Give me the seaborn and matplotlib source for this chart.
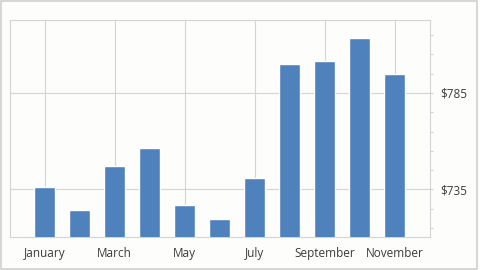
import matplotlib
matplotlib.use("Agg")
import matplotlib.pyplot as plt
import matplotlib.patches as mpatches
from matplotlib.ticker import MultipleLocator, FixedLocator, FuncFormatter
import seaborn as sns
import pandas as pd

months = ["January", "February", "March", "April", "May", "June", "July",
          "August", "September", "October", "November"]
values = [736.5, 724.2, 746.9, 756.6, 726.8, 719.5, 741.2, 799.9, 801.5, 813.4, 794.8]
tick_labels = ["January", "March", "May", "July", "September", "November"]
y_major = [735, 785]
y_minor = [715, 725, 745, 755, 765, 775, 795, 805, 815]

df = pd.DataFrame({"month": months, "value": values})

sns.set_theme(style="white")
plt.rcParams["font.family"] = ["Open Sans", "DejaVu Sans"]

bg = "#FDFEFC"
grid_c = "#D4D4D4"
text_c = "#3B3B3B"

fig = plt.figure(figsize=(4.8, 2.7), dpi=100, facecolor=bg)
ax = fig.add_axes([9.5 / 480, 33 / 270, (429.7 - 9.5) / 480, (237 - 19.5) / 270])
ax.set_facecolor(bg)

sns.barplot(data=df, x="month", y="value", order=months, color="#4F81BD",
            saturation=1, width=0.6, ax=ax, zorder=3)

ax.set_xlim(-1, 11)
ax.set_ylim(710.4, 823)

ax.xaxis.set_minor_locator(MultipleLocator(0.4))
ax.set_xticks(range(0, 11, 2))
ax.set_xticklabels(tick_labels)

ax.yaxis.tick_right()
ax.yaxis.set_major_locator(FixedLocator(y_major))
ax.yaxis.set_minor_locator(FixedLocator(y_minor))
ax.yaxis.set_major_formatter(FuncFormatter(lambda v, p: f"${v:.0f}"))

ax.grid(True, which="major", color=grid_c, linewidth=0.8, zorder=0)
ax.set_axisbelow(True)

for s in ax.spines.values():
    s.set_visible(True)
    s.set_color(grid_c)
    s.set_linewidth(0.8)

ax.tick_params(axis="both", which="both", direction="out", length=2.5,
               width=0.8, color=grid_c, labelcolor=text_c, labelsize=8.5)
ax.tick_params(axis="x", which="major", pad=5)
ax.tick_params(axis="y", which="both", right=True, left=False, pad=5)
ax.set_xlabel("")
ax.set_ylabel("")

border = mpatches.Rectangle((0.5 / 480, 1.5 / 270), 476.5 / 480, 268 / 270,
                            transform=fig.transFigure, fill=False,
                            edgecolor="#D0D0D0", linewidth=1.2)
fig.patches.append(border)

fig.savefig("out.png", dpi=100, facecolor=bg)
